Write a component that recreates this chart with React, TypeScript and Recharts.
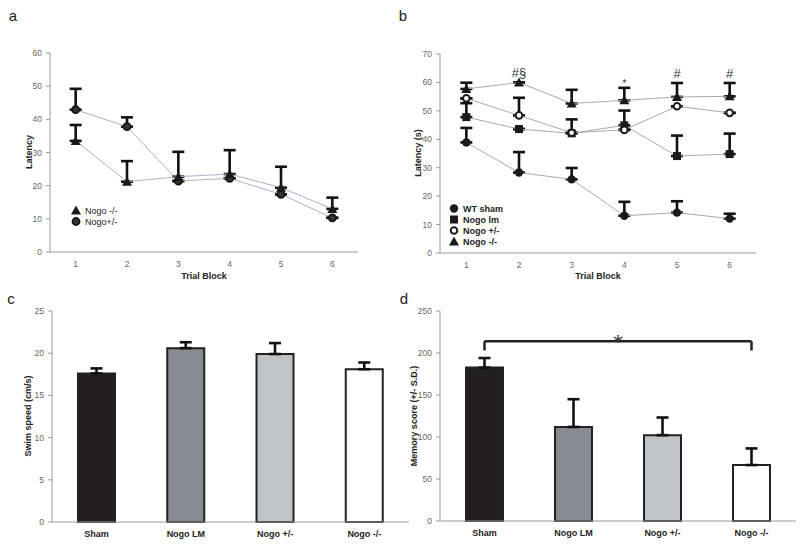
import React from "react";
import {
  LineChart,
  Line,
  XAxis,
  YAxis,
  ErrorBar,
  LabelList,
  ComposedChart,
  Bar,
  Cell,
  ReferenceLine,
} from "recharts";

const FONT = "'Liberation Sans', Arial, sans-serif";

// trial blocks (panels a, b)
const trialBlocks = [1, 2, 3, 4, 5, 6];

// panel a
const aHetMean = [42.9, 37.8, 21.4, 22.2, 17.4, 10.3];
const aHetErr = [6.3, 2.8, 0, 0, 0, 0];
const aKoMean = [33.5, 21.2, 22.7, 23.5, 19.4, 13.0];
const aKoErr = [4.8, 6.2, 7.5, 7.2, 6.3, 3.4];
const aTicks = [0, 10, 20, 30, 40, 50, 60];

// panel b
const bShamMean = [38.9, 28.3, 25.9, 13.1, 14.2, 12.1];
const bShamErr = [5.1, 7.2, 4.0, 4.9, 4.0, 1.7];
const bLmMean = [47.8, 43.6, 42.1, 44.9, 34.1, 34.8];
const bLmErr = [4.9, 0, 4.9, 5.2, 7.2, 7.2];
const bHetMean = [54.4, 48.4, 42.3, 43.3, 51.6, 49.3];
const bHetErr = [0, 6.2, 0, 0, 0, 0];
const bKoMean = [57.7, 60.0, 52.6, 53.7, 54.9, 55.1];
const bKoErr = [2.2, 0, 4.8, 4.4, 4.9, 4.7];
const bAnnot = ["", "#§", "", "*", "#", "#"];
const bAnnotY = [null, 63.4, null, 59.6, 63.2, 63.2];
const bTicks = [0, 10, 20, 30, 40, 50, 60, 70];

// panels c, d
const groups = ["Sham", "Nogo LM", "Nogo +/-", "Nogo -/-"];
const groupColors = ["#231f20", "#878c92", "#c0c3c8", "#ffffff"];
const swimSpeed = [17.6, 20.6, 19.9, 18.1];
const swimErr = [0.6, 0.7, 1.3, 0.8];
const cTicks = [0, 5, 10, 15, 20, 25];
const memScore = [182.6, 112, 102.2, 66.6];
const memErr = [11.4, 33, 21, 19.8];
const dTicks = [0, 50, 100, 150, 200, 250];
const bracketTop = 214;
const bracketFoot = 203;

const aData = trialBlocks.map((b, i) => ({
  block: b,
  het: aHetMean[i],
  hetErr: [0, aHetErr[i]],
  ko: aKoMean[i],
  koErr: [0, aKoErr[i]],
}));

const bData = trialBlocks.map((b, i) => ({
  block: b,
  sham: bShamMean[i],
  shamErr: [0, bShamErr[i]],
  lm: bLmMean[i],
  lmErr: [0, bLmErr[i]],
  het: bHetMean[i],
  hetErr: [0, bHetErr[i]],
  ko: bKoMean[i],
  koErr: [0, bKoErr[i]],
  ann: bAnnot[i],
  annY: bAnnotY[i],
}));

const cData = groups.map((g, i) => ({ group: g, value: swimSpeed[i], err: [0, swimErr[i]] }));
const dData = groups.map((g, i) => ({ group: g, value: memScore[i], err: [0, memErr[i]] }));

const blockBounds = trialBlocks.map((b) => b - 0.5).concat(trialBlocks.length + 0.5);
const groupBounds = [0, 1, 2, 3, 4];

const tickStyle = { fontSize: 8.5, fill: "#666", fontFamily: FONT };
const catTick = { fontSize: 9, fill: "#222", fontFamily: FONT, fontWeight: "bold" };
const axisGrey = { stroke: "#999" };

// markers
const FilledCircle = ({ cx, cy }: any) => <circle cx={cx} cy={cy} r={4.2} fill="#1a1a1a" />;
const OpenCircle = ({ cx, cy }: any) => (
  <circle cx={cx} cy={cy} r={3.3} fill="#fff" stroke="#1a1a1a" strokeWidth={2} />
);
const Square = ({ cx, cy }: any) => <rect x={cx - 4} y={cy - 4} width={8} height={8} fill="#1a1a1a" />;
const Triangle = ({ cx, cy }: any) => (
  <polygon points={`${cx},${cy - 5} ${cx + 5},${cy + 4} ${cx - 5},${cy + 4}`} fill="#1a1a1a" />
);
const RingCircle = ({ cx, cy }: any) => (
  <circle cx={cx} cy={cy} r={3.6} fill="#333" stroke="#111" strokeWidth={1.6} />
);

const dotFn = (Shape: any) => (p: any) =>
  p.cx == null || p.cy == null ? <g key={p.index} /> : <Shape key={p.index} cx={p.cx} cy={p.cy} />;

const errProps = { stroke: "#111", strokeWidth: 2.6, width: 6 };

function LegendRow({ Shape, label, bold }: any) {
  return (
    <div style={{ display: "flex", alignItems: "center", height: 11 }}>
      <svg width={12} height={11}>
        <Shape cx={5} cy={5.5} />
      </svg>
      <span style={{ fontSize: 9, fontFamily: FONT, color: "#222", fontWeight: bold ? "bold" : "normal", marginLeft: 2 }}>
        {label}
      </span>
    </div>
  );
}

function Txt({ x, y, size, bold, rotate, children }: any) {
  return (
    <div
      style={{
        position: "absolute",
        left: x,
        top: y,
        transform: `translate(-50%, -50%)${rotate ? " rotate(-90deg)" : ""}`,
        fontFamily: FONT,
        fontSize: size,
        fontWeight: bold ? "bold" : "normal",
        color: "#222",
        whiteSpace: "nowrap",
      }}
    >
      {children}
    </div>
  );
}

const AnnLabel = (p: any) => {
  if (!p.value || p.y == null) return null;
  const small = p.value === "*";
  return (
    <text
      x={p.x}
      y={p.y}
      textAnchor="middle"
      dominantBaseline="central"
      fontSize={small ? 10 : 13}
      fontFamily={FONT}
      fill="#333"
    >
      {p.value}
    </text>
  );
};

export default function App() {
  return (
    <div style={{ position: "absolute", left: 0, top: 0, width: 800, height: 554, background: "#fff" }}>
      {/* panel a */}
      <div style={{ position: "absolute", left: 0, top: 0 }}>
        <LineChart width={400} height={280} data={aData} margin={{ top: 53, right: 42, bottom: 26, left: 49 }}>
          <XAxis
            dataKey="block"
            type="number"
            domain={[0.5, 6.5]}
            ticks={trialBlocks}
            tickLine={false}
            axisLine={axisGrey}
            tick={tickStyle}
            height={1}
            tickMargin={3}
          />
          <XAxis
            xAxisId="bounds"
            type="number"
            domain={[0.5, 6.5]}
            ticks={blockBounds}
            tick={false}
            axisLine={false}
            tickLine={axisGrey}
            tickSize={4}
            height={1}
          />
          <YAxis
            domain={[0, 60]}
            ticks={aTicks}
            tick={tickStyle}
            width={1}
            tickSize={4}
            tickMargin={4}
            axisLine={axisGrey}
            tickLine={axisGrey}
          />
          <Line dataKey="het" stroke="#aeb0cc" strokeWidth={1} dot={dotFn(RingCircle)} isAnimationActive={false}>
            <ErrorBar dataKey="hetErr" {...errProps} />
          </Line>
          <Line dataKey="ko" stroke="#aeb0cc" strokeWidth={1} dot={dotFn(Triangle)} isAnimationActive={false}>
            <ErrorBar dataKey="koErr" {...errProps} />
          </Line>
        </LineChart>
      </div>
      <Txt x={13} y={15} size={15}>a</Txt>
      <Txt x={29} y={152} size={9} bold rotate>Latency</Txt>
      <Txt x={204} y={276} size={9} bold>Trial Block</Txt>
      <div style={{ position: "absolute", left: 71, top: 205 }}>
        <LegendRow Shape={Triangle} label="Nogo -/-" />
        <LegendRow Shape={RingCircle} label="Nogo+/-" />
      </div>

      {/* panel b */}
      <div style={{ position: "absolute", left: 400, top: 0 }}>
        <LineChart width={400} height={280} data={bData} margin={{ top: 54, right: 44, bottom: 25, left: 39 }}>
          <XAxis
            dataKey="block"
            type="number"
            domain={[0.5, 6.5]}
            ticks={trialBlocks}
            tickLine={false}
            axisLine={axisGrey}
            tick={tickStyle}
            height={1}
            tickMargin={3}
          />
          <XAxis
            xAxisId="bounds"
            type="number"
            domain={[0.5, 6.5]}
            ticks={blockBounds}
            tick={false}
            axisLine={false}
            tickLine={axisGrey}
            tickSize={4}
            height={1}
          />
          <YAxis
            domain={[0, 70]}
            ticks={bTicks}
            tick={tickStyle}
            width={1}
            tickSize={4}
            tickMargin={4}
            axisLine={axisGrey}
            tickLine={axisGrey}
          />
          <Line dataKey="sham" stroke="#aaa" strokeWidth={1} dot={dotFn(FilledCircle)} isAnimationActive={false}>
            <ErrorBar dataKey="shamErr" {...errProps} />
          </Line>
          <Line dataKey="lm" stroke="#aaa" strokeWidth={1} dot={dotFn(Square)} isAnimationActive={false}>
            <ErrorBar dataKey="lmErr" {...errProps} />
          </Line>
          <Line dataKey="het" stroke="#aaa" strokeWidth={1} dot={dotFn(OpenCircle)} isAnimationActive={false}>
            <ErrorBar dataKey="hetErr" {...errProps} />
          </Line>
          <Line dataKey="ko" stroke="#aaa" strokeWidth={1} dot={dotFn(Triangle)} isAnimationActive={false}>
            <ErrorBar dataKey="koErr" {...errProps} />
          </Line>
          <Line dataKey="annY" stroke="none" dot={false} isAnimationActive={false}>
            <LabelList dataKey="ann" content={AnnLabel} />
          </Line>
        </LineChart>
      </div>
      <Txt x={403} y={15} size={15}>b</Txt>
      <Txt x={418} y={153} size={9} bold rotate>Latency (s)</Txt>
      <Txt x={598} y={276} size={9} bold>Trial Block</Txt>
      <div style={{ position: "absolute", left: 449, top: 203 }}>
        <LegendRow Shape={FilledCircle} label="WT sham" bold />
        <LegendRow Shape={Square} label="Nogo lm" bold />
        <LegendRow Shape={OpenCircle} label="Nogo +/-" bold />
        <LegendRow Shape={Triangle} label="Nogo -/-" bold />
      </div>

      {/* panel c */}
      <div style={{ position: "absolute", left: 0, top: 280 }}>
        <ComposedChart width={420} height={274} data={cData} margin={{ top: 31, right: 11, bottom: 30, left: 51 }}>
          <XAxis dataKey="group" tickLine={false} axisLine={axisGrey} tick={catTick} height={1} tickMargin={3} />
          <XAxis
            xAxisId="bounds"
            type="number"
            domain={[0, 4]}
            ticks={groupBounds}
            tick={false}
            axisLine={false}
            tickLine={axisGrey}
            tickSize={4}
            height={1}
          />
          <YAxis
            domain={[0, 25]}
            ticks={cTicks}
            tick={tickStyle}
            width={1}
            tickSize={4}
            tickMargin={4}
            axisLine={axisGrey}
            tickLine={axisGrey}
          />
          <Bar dataKey="value" barSize={37} stroke="#222" strokeWidth={2} isAnimationActive={false}>
            {cData.map((d, i) => (
              <Cell key={d.group} fill={groupColors[i]} />
            ))}
            <ErrorBar dataKey="err" {...errProps} />
          </Bar>
        </ComposedChart>
      </div>
      <Txt x={11} y={298} size={15}>c</Txt>
      <Txt x={28} y={416} size={9} bold rotate>Swim speed (cm/s)</Txt>

      {/* panel d */}
      <div style={{ position: "absolute", left: 400, top: 280 }}>
        <ComposedChart width={400} height={274} data={dData} margin={{ top: 31, right: 4, bottom: 31, left: 39 }}>
          <XAxis dataKey="group" tickLine={false} axisLine={axisGrey} tick={catTick} height={1} tickMargin={3} />
          <XAxis
            xAxisId="bounds"
            type="number"
            domain={[0, 4]}
            ticks={groupBounds}
            tick={false}
            axisLine={false}
            tickLine={axisGrey}
            tickSize={4}
            height={1}
          />
          <YAxis
            domain={[0, 250]}
            ticks={dTicks}
            tick={tickStyle}
            width={1}
            tickSize={4}
            tickMargin={4}
            axisLine={axisGrey}
            tickLine={axisGrey}
          />
          <Bar dataKey="value" barSize={37} stroke="#222" strokeWidth={2} isAnimationActive={false}>
            {dData.map((d, i) => (
              <Cell key={d.group} fill={groupColors[i]} />
            ))}
            <ErrorBar dataKey="err" {...errProps} />
          </Bar>
          <ReferenceLine
            segment={[
              { x: groups[0], y: bracketTop },
              { x: groups[3], y: bracketTop },
            ]}
            stroke="#222"
            strokeWidth={2.5}
            label={{ value: "*", position: "top", fontSize: 22, fill: "#333", offset: -8 }}
          />
          <ReferenceLine
            segment={[
              { x: groups[0], y: bracketFoot },
              { x: groups[0], y: bracketTop },
            ]}
            stroke="#222"
            strokeWidth={2.5}
          />
          <ReferenceLine
            segment={[
              { x: groups[3], y: bracketFoot },
              { x: groups[3], y: bracketTop },
            ]}
            stroke="#222"
            strokeWidth={2.5}
          />
        </ComposedChart>
      </div>
      <Txt x={404} y={298} size={15}>d</Txt>
      <Txt x={414} y={416} size={9} bold rotate>Memory score (+/- S.D.)</Txt>
    </div>
  );
}
